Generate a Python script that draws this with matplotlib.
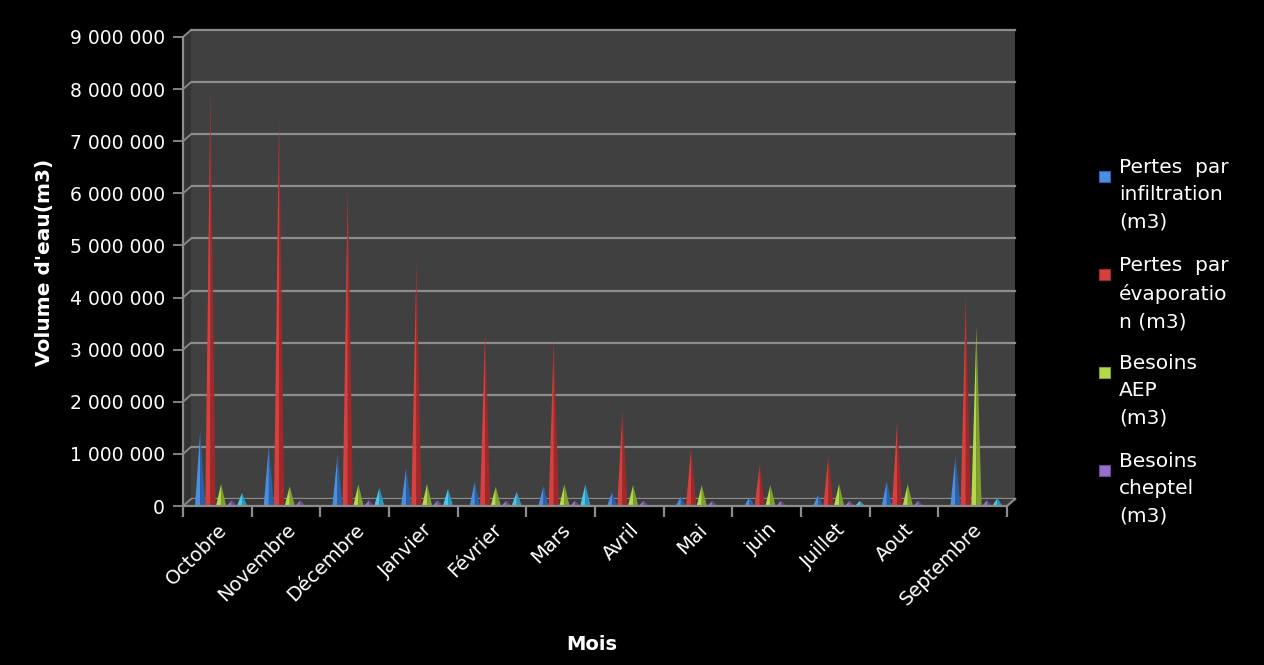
import matplotlib.pyplot as plt
from matplotlib.patches import Polygon, Rectangle
from matplotlib.lines import Line2D

plt.rcParams['font.family'] = ['DejaVu Sans']

mois = ['Octobre', 'Novembre', 'Décembre', 'Janvier', 'Février', 'Mars',
        'Avril', 'Mai', 'juin', 'Juillet', 'Aout', 'Septembre']

# volumes mensuels en m3
infiltration = [1430000, 1150000, 980000, 730000, 470000, 380000,
                260000, 180000, 180000, 210000, 470000, 950000]
evaporation = [8020000, 7410000, 6120000, 4680000, 3370000, 3180000,
               1840000, 1110000, 790000, 960000, 1600000, 4030000]
aep = [420000, 380000, 420000, 420000, 370000, 420000,
       400000, 400000, 400000, 420000, 420000, 3440000]
cheptel = [110000, 110000, 110000, 110000, 100000, 100000,
           100000, 100000, 100000, 100000, 100000, 110000]
autres = [250000, 0, 350000, 330000, 270000, 420000,
          0, 0, 0, 100000, 0, 150000]

series = [infiltration, evaporation, aep, cheptel, autres]
legend_labels = ['Pertes  par\ninfiltration\n(m3)',
                 'Pertes  par\névaporatio\nn (m3)',
                 'Besoins\nAEP\n(m3)',
                 'Besoins\ncheptel\n(m3)']
yticks = [0, 1000000, 2000000, 3000000, 4000000, 5000000,
          6000000, 7000000, 8000000, 9000000]

# (clair, foncé) pour donner un aspect de cône
colors = [('#4a8fe0', '#2b5fa8'),
          ('#d8403f', '#a02828'),
          ('#b5d94a', '#7fa02c'),
          ('#9470c8', '#6a4a98'),
          ('#4cc8ec', '#2a98bf')]

W, H = 1264, 665
GRID = '#8c8c8c'


def px_rect(x0, y0, x1, y1):
    return [x0 / W, 1 - y1 / H, (x1 - x0) / W, (y1 - y0) / H]


def fig_pt(x, y):
    return (x / W, 1 - y / H)


fig = plt.figure(figsize=(W / 100, H / 100), dpi=100, facecolor='black')

# mur du fond
wall = fig.add_axes(px_rect(191, 30, 1015, 499), facecolor='#404040', zorder=0)
wall.set_xlim(0, 12)
wall.set_ylim(0, 9000000)
for v in yticks:
    wall.axhline(v, color=GRID, lw=1.6, clip_on=False)
wall.set_xticks([])
wall.set_yticks([])
for s in wall.spines.values():
    s.set_visible(False)

# paroi gauche et plancher
fig.patches.append(Polygon([fig_pt(183, 506), fig_pt(183, 37), fig_pt(191, 30), fig_pt(191, 499)],
                           closed=True, facecolor='#333333', edgecolor='none',
                           transform=fig.transFigure, zorder=1))
fig.patches.append(Polygon([fig_pt(183, 506), fig_pt(1007, 506), fig_pt(1015, 499), fig_pt(191, 499)],
                           closed=True, facecolor='#3a3a3a', edgecolor='none',
                           transform=fig.transFigure, zorder=1))

ax = fig.add_axes(px_rect(183, 37, 1007, 506), zorder=2)
ax.patch.set_alpha(0)
ax.set_xlim(0, 12)
ax.set_ylim(0, 9000000)

# petits raccords obliques entre l'axe et le quadrillage du fond
for v in yticks:
    y = 506 - (506 - 37) * v / 9000000
    fig.lines.append(Line2D([183 / W, 191 / W], [1 - y / H, 1 - (y - 7) / H],
                            color=GRID, lw=1.3, transform=fig.transFigure, zorder=1.5))
fig.lines.append(Line2D([1007 / W, 1015 / W], [1 - 506 / H, 1 - 499 / H],
                        color=GRID, lw=1.6, transform=fig.transFigure, zorder=1.5))

offsets = [0.25, 0.40, 0.555, 0.71, 0.86]
hw = 0.075
for k, vals in enumerate(series):
    light, dark = colors[k]
    for i, v in enumerate(vals):
        if v <= 0:
            continue
        x = i + offsets[k]
        ax.fill([x - hw, x, x], [0, v, 0], color=light, lw=0)
        ax.fill([x, x, x + hw], [0, v, 0], color=dark, lw=0)

for side in ['top', 'right']:
    ax.spines[side].set_visible(False)
for side in ['left', 'bottom']:
    ax.spines[side].set_color(GRID)
    ax.spines[side].set_linewidth(1.6)

ax.set_yticks(yticks)
ax.set_yticklabels([f'{v:,}'.replace(',', ' ') for v in yticks])
ax.tick_params(axis='y', colors=GRID, labelcolor='white', labelsize=13.5,
               length=7, width=1.3, direction='out', pad=6)
ax.set_xticks(range(13))
ax.set_xticklabels([])
ax.tick_params(axis='x', which='major', colors=GRID, length=8, width=1.6)
ax.set_xticks([i + 0.5 for i in range(12)], minor=True)
ax.set_xticklabels(mois, minor=True, rotation=45, ha='right',
                   rotation_mode='anchor', color='white', fontsize=14)
ax.tick_params(axis='x', which='minor', length=0, pad=10)

fig.text(45 / W, 1 - 262 / H, "Volume d'eau(m3)", rotation=90, color='white',
         fontsize=14.5, fontweight='bold', ha='center', va='center')
fig.text(592 / W, 1 - 645 / H, 'Mois', color='white', fontsize=14,
         fontweight='bold', ha='center', va='center')

# légende
for k, lab in enumerate(legend_labels):
    ytop = 158 + k * 98
    light, dark = colors[k]
    fig.patches.append(Rectangle(fig_pt(1099, ytop + 24), 11 / W, 11 / H,
                                 facecolor=light, edgecolor=dark, lw=0.8,
                                 transform=fig.transFigure))
    fig.text(1119 / W, 1 - ytop / H, lab, color='white', fontsize=14.5,
             ha='left', va='top', linespacing=1.55)

fig.savefig('out.png', dpi=100, facecolor='black')
